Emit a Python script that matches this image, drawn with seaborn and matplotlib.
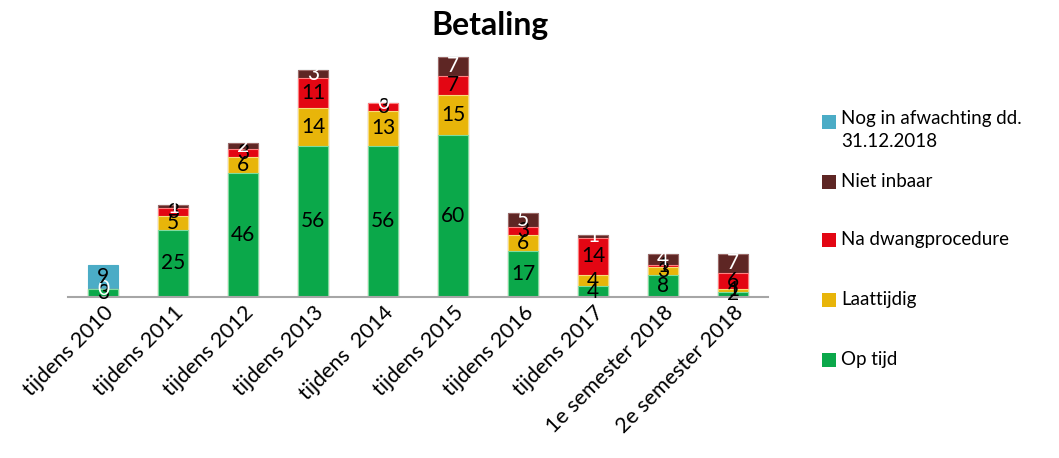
import numpy as np
import pandas as pd
import matplotlib
matplotlib.use("Agg")
import matplotlib.pyplot as plt
import seaborn as sns
from matplotlib.patches import Rectangle

categories = ["tijdens 2010", "tijdens 2011", "tijdens 2012", "tijdens 2013", "tijdens  2014",
              "tijdens 2015", "tijdens 2016", "tijdens 2017", "1e semester 2018", "2e semester 2018"]
op_tijd = [3, 25, 46, 56, 56, 60, 17, 4, 8, 2]
laattijdig = [0, 5, 6, 14, 13, 15, 6, 4, 3, 1]
na_dwang = [0, 3, 3, 11, 3, 7, 3, 14, 1, 6]
niet_inbaar = [0, 1, 2, 3, 0, 7, 5, 1, 4, 7]
in_afwachting = [9, 0, 0, 0, 0, 0, 0, 0, 0, 0]

series_names = ["Op tijd", "Laattijdig", "Na dwangprocedure", "Niet inbaar",
                "Nog in afwachting dd.\n31.12.2018"]
series_vals = [op_tijd, laattijdig, na_dwang, niet_inbaar, in_afwachting]
colors = ["#0BA84A", "#E8B50A", "#E30613", "#5E2624", "#4BACC6"]
edge_colors = ["#7FDCA0", "#F7DC7A", "#FF8080", "#9C6A68", "#4BACC6"]
label_colors = ["black", "black", "black", "white", "black"]

sns.set_theme(style="white")
plt.rcParams["font.family"] = ["Lato", "DejaVu Sans"]
plt.rcParams["text.color"] = "black"
plt.rcParams["xtick.color"] = "black"

df = pd.DataFrame({"categorie": categories})
cum = np.zeros(len(categories))
cums = []
for vals in series_vals:
    cum = cum + np.array(vals)
    cums.append(cum.copy())

fig = plt.figure(figsize=(10.59, 4.58), dpi=100)
ax = fig.add_axes([68 / 1059, 1 - 297 / 458, 700 / 1059, 256.5 / 458])

# stacked bars: draw the cumulative totals from the top down
for i in range(len(series_vals) - 1, -1, -1):
    df["waarde"] = cums[i]
    sns.barplot(data=df, x="categorie", y="waarde", color=colors[i], width=0.44,
                edgecolor=edge_colors[i], linewidth=0.8, saturation=1, ax=ax)

for i, vals in enumerate(series_vals):
    for j, v in enumerate(vals):
        if v == 0 and i != 3:
            continue
        y = cums[i][j] - v / 2
        ax.text(j, y, str(v), ha="center", va="center", fontsize=15,
                color=label_colors[i])

ax.set_xlim(-0.5, 9.5)
ax.set_ylim(0, 95)
ax.set_xlabel("")
ax.set_ylabel("")
ax.set_yticks([])
for s in ["top", "right", "left"]:
    ax.spines[s].set_visible(False)
ax.spines["bottom"].set_color("#A6A6A6")
ax.spines["bottom"].set_linewidth(1.5)
ax.tick_params(axis="x", length=0, pad=4, colors="black")
ax.set_xticks(range(len(categories)))
ax.set_xticklabels(categories, rotation=45, ha="right", rotation_mode="anchor", fontsize=15.5)

fig.text(490 / 1059, 1 - 25 / 458, "Betaling", ha="center", va="center",
         fontsize=23, fontweight="bold", color="black")

# legend drawn by hand
legend_y = [122, 182, 240, 300, 360]
order = [4, 3, 2, 1, 0]
for y, i in zip(legend_y, order):
    fig.patches.append(Rectangle((822 / 1059, 1 - (y + 7) / 458), 14 / 1059, 14 / 458,
                                 transform=fig.transFigure, facecolor=colors[i],
                                 edgecolor="none"))
    name = series_names[i]
    va = "top" if "\n" in name else "center"
    ty = y - 12 if "\n" in name else y
    fig.text(841 / 1059, 1 - ty / 458, name, ha="left", va=va, fontsize=13.5,
             linespacing=1.45, color="black")

fig.savefig("out.png", dpi=100)
